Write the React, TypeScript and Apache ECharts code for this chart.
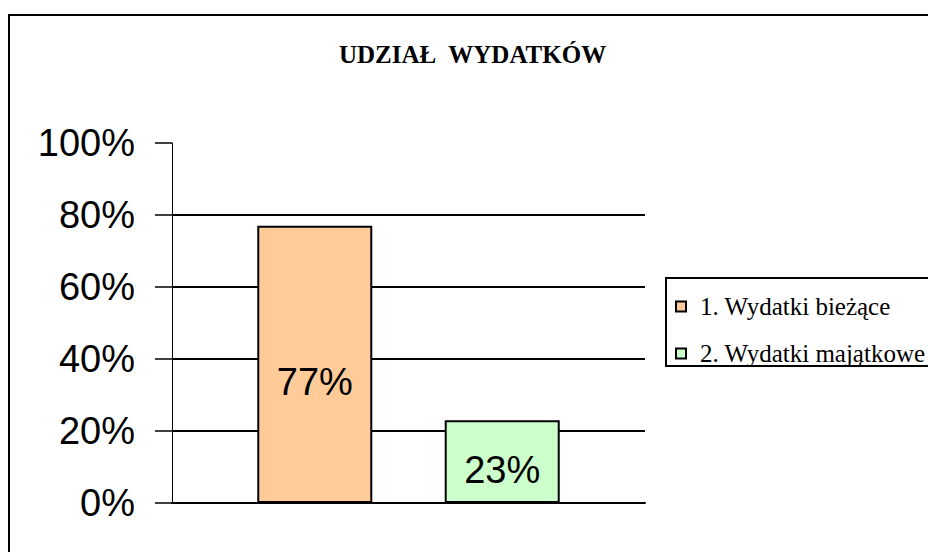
import React, { useEffect, useRef } from "react";
import * as echarts from "echarts";

const titleText = "UDZIAŁ  WYDATKÓW";
const categories = [""];
const seriesNames = ["1. Wydatki bieżące", "2. Wydatki majątkowe"];
const seriesValues = [77, 23];
const seriesColors = ["#FFCC99", "#CCFFCC"];
const labelOffsets = [18, 8];

export default function App() {
  const ref = useRef<HTMLDivElement>(null);
  useEffect(() => {
    if (!ref.current) return;
    const chart = echarts.init(ref.current, null, { renderer: "svg" });
    chart.setOption({
      animation: false,
      backgroundColor: "#fff",
      title: {
        text: titleText,
        left: 334,
        top: 37,
        textStyle: {
          fontFamily: "Liberation Serif",
          fontWeight: "bold",
          fontSize: 25,
          color: "#000",
        },
      },
      graphic: [
        {
          type: "rect",
          shape: { x: 9, y: 15, width: 1200, height: 800 },
          style: { fill: "none", stroke: "#000", lineWidth: 2 },
          z: 100,
          silent: true,
        },
        {
          type: "rect",
          shape: { x: 666, y: 278, width: 600, height: 88 },
          style: { fill: "none", stroke: "#000", lineWidth: 2 },
          z: 100,
          silent: true,
        },
      ],
      legend: {
        orient: "vertical",
        left: 665,
        top: 277,
        padding: [17, 20, 7, 10],
        itemGap: 22,
        itemWidth: 10,
        itemHeight: 10,
        icon: "rect",
        textStyle: {
          fontFamily: "Liberation Serif",
          fontSize: 25,
          lineHeight: 22,
          color: "#000",
          padding: [0, 0, 0, 9],
        },
        data: seriesNames,
      },
      grid: { left: 172, top: 143, width: 473, height: 360 },
      xAxis: {
        type: "category",
        data: categories,
        axisLine: { show: true, lineStyle: { color: "#000", width: 2 } },
        axisTick: { show: false },
        axisLabel: { show: false },
        splitLine: { show: false },
      },
      yAxis: {
        type: "value",
        min: 0,
        max: 100,
        interval: 20,
        axisLine: { show: true, lineStyle: { color: "#000", width: 1 } },
        axisTick: {
          show: true,
          inside: false,
          length: 17,
          lineStyle: { color: "#000", width: 1.5 },
        },
        axisLabel: {
          margin: 37,
          formatter: "{value}%",
          fontFamily: "Liberation Sans",
          fontSize: 38,
          color: "#000",
        },
        splitLine: {
          show: true,
          lineStyle: {
            color: ["#000", "#000", "#000", "#000", "#000", "rgba(0,0,0,0)"],
            width: 2,
          },
        },
      },
      series: seriesNames.map((name, i) => ({
        name,
        type: "bar",
        barWidth: 115,
        barGap: "63%",
        itemStyle: { color: seriesColors[i], borderColor: "#000", borderWidth: 2 },
        label: {
          show: true,
          position: "inside",
          offset: [0, labelOffsets[i]],
          formatter: "{c}%",
          fontFamily: "Liberation Sans",
          fontSize: 38,
          color: "#000",
        },
        data: [seriesValues[i]],
      })),
    });
    return () => chart.dispose();
  }, []);
  return (
    <div
      style={{
        position: "absolute",
        left: 0,
        top: 0,
        width: 928,
        height: 552,
        overflow: "hidden",
        background: "#fff",
      }}
    >
      <div ref={ref} style={{ width: 1000, height: 600 }} />
    </div>
  );
}
